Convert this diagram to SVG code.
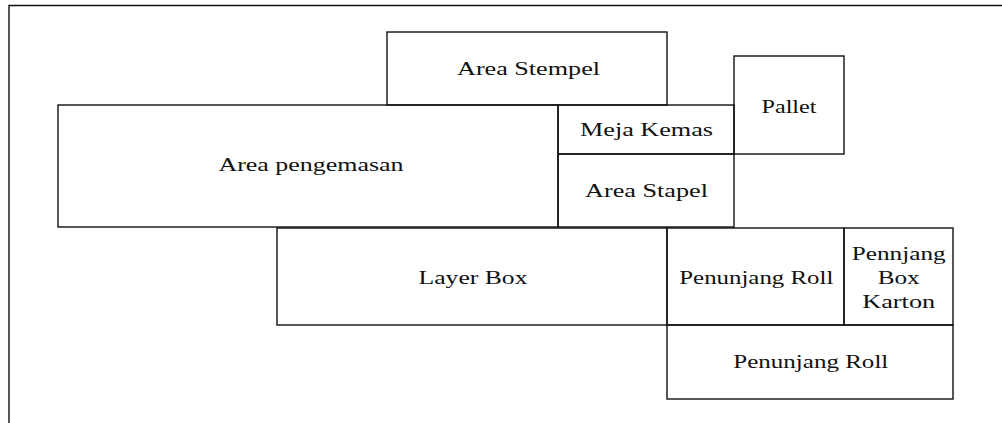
<svg xmlns="http://www.w3.org/2000/svg" width="1002" height="423" viewBox="0 0 1002 423">
<style>
.b{fill:none;stroke:#111;stroke-width:1.4}
.t{font-family:"Liberation Serif","Times New Roman",serif;font-size:19.5px;fill:#111;text-anchor:middle}
</style>
<rect width="1002" height="423" fill="#fff"/>
<g id="frame"><path class="b" d="M9,423 V5.5 H1002"/></g>
<g id="area-stempel"><rect class="b" x="387" y="32" width="280" height="73"/><text class="t" x="528.5" y="75" textLength="143" lengthAdjust="spacingAndGlyphs">Area Stempel</text></g>
<g id="pallet"><rect class="b" x="734" y="56" width="110" height="98"/><text class="t" x="789" y="112.5" textLength="55" lengthAdjust="spacingAndGlyphs">Pallet</text></g>
<g id="area-pengemasan"><rect class="b" x="58" y="105" width="500" height="122"/><text class="t" x="311" y="171" textLength="185" lengthAdjust="spacingAndGlyphs">Area pengemasan</text></g>
<g id="meja-kemas"><rect class="b" x="558" y="105" width="176" height="49"/><text class="t" x="646.5" y="136" textLength="133" lengthAdjust="spacingAndGlyphs">Meja Kemas</text></g>
<g id="area-stapel"><rect class="b" x="558" y="154" width="176" height="73"/><text class="t" x="646.5" y="196.5" textLength="123" lengthAdjust="spacingAndGlyphs">Area Stapel</text></g>
<g id="layer-box"><rect class="b" x="277" y="228" width="390" height="97"/><text class="t" x="473" y="284" textLength="109" lengthAdjust="spacingAndGlyphs">Layer Box</text></g>
<g id="penunjang-roll-1"><rect class="b" x="667" y="228" width="177" height="97"/><text class="t" x="756.3" y="283.5" textLength="154" lengthAdjust="spacingAndGlyphs">Penunjang Roll</text></g>
<g id="pennjang-box-karton"><rect class="b" x="844" y="228" width="109" height="97"/><text class="t" x="898.7" y="260" textLength="94" lengthAdjust="spacingAndGlyphs">Pennjang</text><text class="t" x="898.7" y="284" textLength="42" lengthAdjust="spacingAndGlyphs">Box</text><text class="t" x="898.7" y="307.5" textLength="73" lengthAdjust="spacingAndGlyphs">Karton</text></g>
<g id="penunjang-roll-2"><rect class="b" x="667" y="325" width="286" height="74"/><text class="t" x="810.8" y="368.3" textLength="155" lengthAdjust="spacingAndGlyphs">Penunjang Roll</text></g>
<g id="connectors"></g>
</svg>
